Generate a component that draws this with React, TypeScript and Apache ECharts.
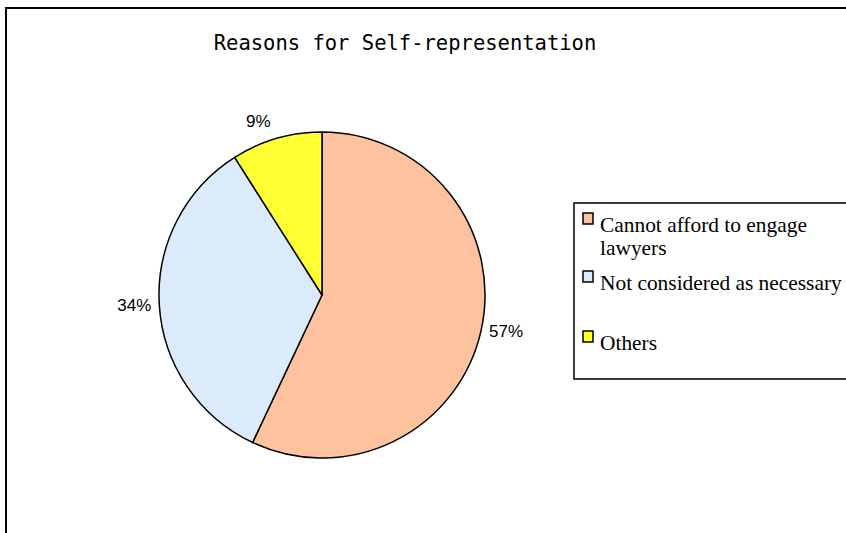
import React, { useEffect, useRef } from "react";
import * as echarts from "echarts";

const categories = ["Cannot afford to engage\nlawyers", "Not considered as necessary", "Others"];
const values = [57, 34, 9];
const colors = ["#FFC29E", "#DCEBFC", "#FFFF33"];
const titleText = "Reasons for Self-representation";

export default function App() {
  const ref = useRef<HTMLDivElement>(null);
  useEffect(() => {
    if (!ref.current) return;
    const chart = echarts.init(ref.current, undefined, { renderer: "svg" });
    const legendRowsY = [225, 283, 343];
    const lineH = 23;
    const legendGraphics: any[] = [];
    categories.forEach((c, i) => {
      const y = legendRowsY[i];
      const lines = c.split("\n").length;
      legendGraphics.push({
        type: "rect",
        shape: { x: 583, y: y - 12, width: 10, height: 11 },
        style: { fill: colors[i], stroke: "#000", lineWidth: 1.5 },
        silent: true,
      });
      legendGraphics.push({
        type: "text",
        x: 600,
        y: y + ((lines - 1) * lineH) / 2,
        style: {
          text: c,
          fill: "#000",
          font: "21.4px 'Liberation Serif', 'Times New Roman', serif",
          verticalAlign: "middle",
          align: "left",
          lineHeight: lineH,
        },
        silent: true,
      });
    });
    const labelDy = [0, 0, -14];
    const option: any = {
      animation: false,
      backgroundColor: "#fff",
      graphic: [
        {
          type: "rect",
          shape: { x: 6, y: 8, width: 1000, height: 700 },
          style: { fill: "none", stroke: "#000", lineWidth: 2 },
          silent: true,
        },
        {
          type: "text",
          x: 405,
          y: 43,
          style: {
            text: titleText,
            fill: "#000",
            font: "20.5px 'DejaVu Sans Mono', monospace",
            align: "center",
            verticalAlign: "middle",
          },
          silent: true,
        },
        {
          type: "rect",
          shape: { x: 574, y: 203, width: 400, height: 176 },
          style: { fill: "#fff", stroke: "#000", lineWidth: 1.5 },
          silent: true,
        },
        ...legendGraphics,
      ],
      series: [
        {
          type: "pie",
          center: [322, 295],
          radius: 163,
          startAngle: 90,
          clockwise: true,
          silent: true,
          emphasis: { disabled: true },
          itemStyle: { borderColor: "#000", borderWidth: 1.5 },
          label: {
            show: true,
            position: "outside",
            formatter: "{c}%",
            color: "#000",
            fontFamily: "'Liberation Sans', Arial, sans-serif",
            fontSize: 17,
          },
          labelLine: { show: false, length: 3, length2: 0 },
          labelLayout: (params: any) => ({ dy: labelDy[params.dataIndex] || 0 }),
          data: values.map((v, i) => ({
            value: v,
            name: categories[i],
            itemStyle: { color: colors[i] },
          })),
        },
      ],
    };
    chart.setOption(option);
    return () => chart.dispose();
  }, []);
  return (
    <div
      ref={ref}
      style={{ position: "absolute", left: 0, top: 0, width: 846, height: 533 }}
    />
  );
}
